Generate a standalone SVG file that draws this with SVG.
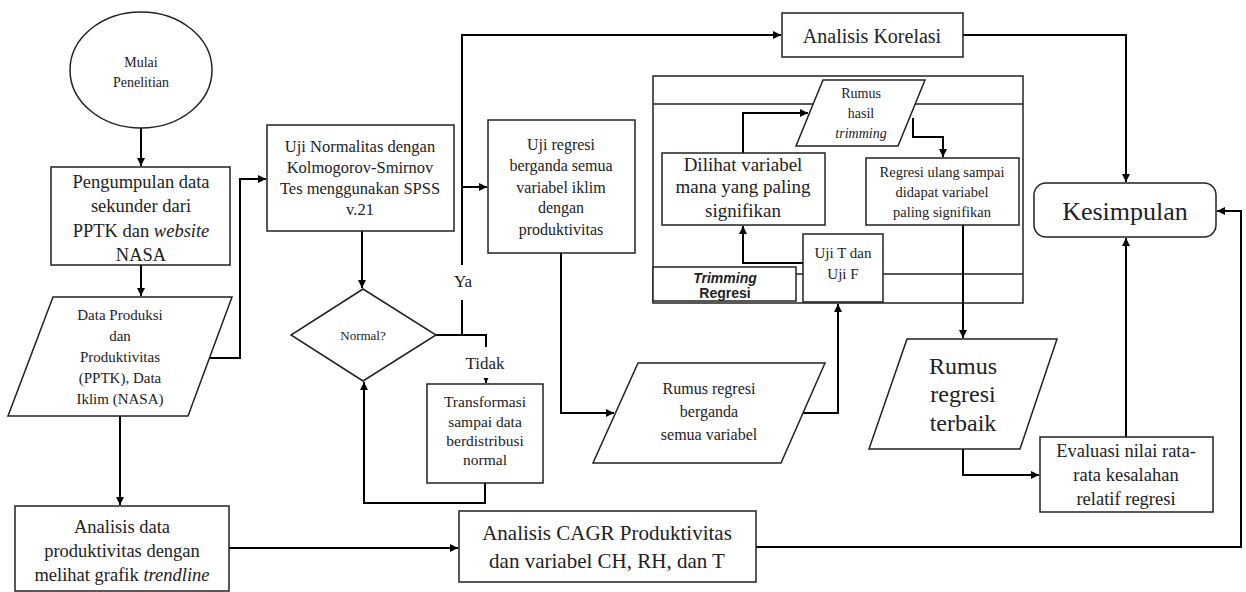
<svg xmlns="http://www.w3.org/2000/svg" width="1246" height="592" viewBox="0 0 1246 592">
<defs>
<marker id="ah" markerUnits="userSpaceOnUse" markerWidth="9" markerHeight="9" refX="8" refY="4" orient="auto">
<path d="M0,0 L8,4 L0,8 z" fill="#000"/>
</marker>
<style>
.n{fill:#fff;stroke:#222;stroke-width:1.5}
.c{fill:none;stroke:#000;stroke-width:2;marker-end:url(#ah)}
.l{fill:none;stroke:#222;stroke-width:1.5}
text{font-family:"Liberation Serif","Times New Roman",serif;fill:#222;text-anchor:middle}
.s{font-family:"Liberation Sans",Arial,sans-serif;font-weight:bold}
</style>
</defs>
<rect width="1246" height="592" fill="#fff"/>

<g id="trimming-frame">
<rect class="l" x="653" y="76" width="370" height="227" fill="none"/>
<line class="l" x1="653" y1="104" x2="1023" y2="104"/>
<line class="l" x1="796" y1="274" x2="1023" y2="274"/>
<rect class="n" x="653" y="267" width="143" height="34"/>
<text class="s" x="725" y="283" font-size="14"><tspan font-style="italic">Trimming</tspan></text>
<text class="s" x="725" y="298" font-size="14">Regresi</text>
</g>

<g id="connectors">
<path class="c" d="M141,128 V166"/>
<path class="c" d="M141,265 V296"/>
<path class="c" d="M210,358 H240 V179 H266"/>
<path class="c" d="M120,416 V505"/>
<path class="c" d="M229,548 H458"/>
<path class="c" d="M362,231 V288"/>
<path class="c" d="M436,335 H486 V383"/>
<path class="c" d="M462,335 V35 H781"/>
<path class="c" d="M462,187 H487"/>
<path class="c" d="M485,483 V503 H364 V382"/>
<path class="c" d="M561,253 V413 H614"/>
<path class="c" d="M803,413 H838 V304"/>
<path class="c" d="M803,263 H743 V226"/>
<path class="c" d="M743,153 V113 H808"/>
<path class="c" d="M913,118 V137 H943 V157"/>
<path class="c" d="M963,225 V338"/>
<path class="c" d="M963,449 V475 H1039"/>
<path class="c" d="M1126,437 V238"/>
<path class="c" d="M963,35 H1126 V182"/>
<path class="c" d="M756,547 H1241 V211 H1217"/>
</g>

<g id="mulai">
<ellipse class="n" cx="141" cy="70" rx="71" ry="58"/>
<text x="141" y="67" font-size="14">Mulai</text>
<text x="141" y="87" font-size="14">Penelitian</text>
</g>

<g id="pengumpulan">
<rect class="n" x="51" y="167" width="179" height="98"/>
<text x="141" y="188" font-size="18.5">Pengumpulan  data</text>
<text x="141" y="212" font-size="18.5">sekunder dari</text>
<text x="141" y="237" font-size="18.5">PPTK dan <tspan font-style="italic">website</tspan></text>
<text x="141" y="261" font-size="18.5">NASA</text>
</g>

<g id="data-produksi">
<polygon class="n" points="53,297 232,297 188,416 8,416"/>
<text x="120" y="320" font-size="15">Data Produksi</text>
<text x="120" y="341" font-size="15">dan</text>
<text x="120" y="362" font-size="15">Produktivitas</text>
<text x="120" y="383" font-size="15">(PPTK), Data</text>
<text x="120" y="404" font-size="15">Iklim (NASA)</text>
</g>

<g id="analisis-data">
<rect class="n" x="15" y="506" width="214" height="85"/>
<text x="122" y="533" font-size="18.5">Analisis  data</text>
<text x="122" y="557" font-size="18.5">produktivitas  dengan</text>
<text x="122" y="581" font-size="18.5">melihat grafik <tspan font-style="italic">trendline</tspan></text>
</g>

<g id="uji-normalitas">
<rect class="n" x="267" y="125" width="187" height="106"/>
<text x="360" y="152" font-size="16.5">Uji Normalitas dengan</text>
<text x="360" y="173" font-size="16.5">Kolmogorov-Smirnov</text>
<text x="360" y="194" font-size="16.5">Tes menggunakan SPSS</text>
<text x="360" y="215" font-size="16.5">v.21</text>
</g>

<g id="normal">
<polygon class="n" points="363,289 436,335 363,381 291,335"/>
<text x="363" y="340" font-size="13">Normal?</text>
</g>

<g id="transformasi">
<rect class="n" x="427" y="384" width="116" height="99"/>
<text x="485" y="407" font-size="15.5">Transformasi</text>
<text x="485" y="427" font-size="15.5">sampai data</text>
<text x="485" y="446" font-size="15.5">berdistribusi</text>
<text x="485" y="465" font-size="15.5">normal</text>
</g>

<g id="uji-regresi">
<rect class="n" x="488" y="120" width="147" height="133"/>
<text x="561" y="150" font-size="16">Uji regresi</text>
<text x="561" y="171" font-size="16">berganda semua</text>
<text x="561" y="193" font-size="16">variabel iklim</text>
<text x="561" y="213" font-size="16">dengan</text>
<text x="561" y="235" font-size="16">produktivitas</text>
</g>

<g id="rumus-regresi-berganda">
<polygon class="n" points="638,363 825,363 781,463 593,463"/>
<text x="709" y="394" font-size="16">Rumus regresi</text>
<text x="709" y="417" font-size="16">berganda</text>
<text x="709" y="440" font-size="16">semua variabel</text>
</g>

<g id="analisis-korelasi">
<rect class="n" x="782" y="13" width="181" height="44"/>
<text x="872" y="43" font-size="20">Analisis Korelasi</text>
</g>

<g id="rumus-hasil-trimming">
<polygon class="n" points="823,80 925,80 898,146 796,146"/>
<text x="861" y="98" font-size="14">Rumus</text>
<text x="861" y="118" font-size="14">hasil</text>
<text x="861" y="138" font-size="14" font-style="italic">trimming</text>
</g>

<g id="dilihat">
<rect class="n" x="662" y="153" width="163" height="72"/>
<text x="743" y="171" font-size="19">Dilihat variabel</text>
<text x="743" y="193" font-size="19">mana yang paling</text>
<text x="743" y="217" font-size="19">signifikan</text>
</g>

<g id="regresi-ulang">
<rect class="n" x="866" y="158" width="153" height="67"/>
<text x="942" y="177" font-size="14.5">Regresi ulang sampai</text>
<text x="942" y="197" font-size="14.5">didapat variabel</text>
<text x="942" y="217" font-size="14.5">paling signifikan</text>
</g>

<g id="uji-t-f">
<rect class="n" x="803" y="234" width="80" height="68"/>
<text x="843" y="258" font-size="15">Uji T dan</text>
<text x="843" y="279" font-size="15">Uji F</text>
</g>

<g id="rumus-terbaik">
<polygon class="n" points="907,339 1057,339 1020,449 869,449"/>
<text x="963" y="374" font-size="24">Rumus</text>
<text x="963" y="402" font-size="24">regresi</text>
<text x="963" y="431" font-size="24">terbaik</text>
</g>

<g id="evaluasi">
<rect class="n" x="1040" y="437" width="173" height="75"/>
<text x="1126" y="457" font-size="18.5">Evaluasi  nilai rata-</text>
<text x="1126" y="481" font-size="18.5">rata kesalahan</text>
<text x="1126" y="505" font-size="18.5">relatif regresi</text>
</g>

<g id="kesimpulan">
<rect class="n" x="1034" y="183" width="182" height="54" rx="12"/>
<text x="1125" y="220" font-size="26">Kesimpulan</text>
</g>

<g id="cagr">
<rect class="n" x="459" y="511" width="297" height="71"/>
<text x="607" y="540" font-size="21">Analisis CAGR Produktivitas</text>
<text x="607" y="568" font-size="21">dan variabel CH, RH, dan T</text>
</g>

<g id="labels">
<rect x="452" y="265" width="32" height="35" fill="#fff"/>
<text x="463" y="287" font-size="17">Ya</text>
<rect x="456" y="347" width="58" height="31" fill="#fff"/>
<text x="485" y="369" font-size="17">Tidak</text>
</g>
</svg>
